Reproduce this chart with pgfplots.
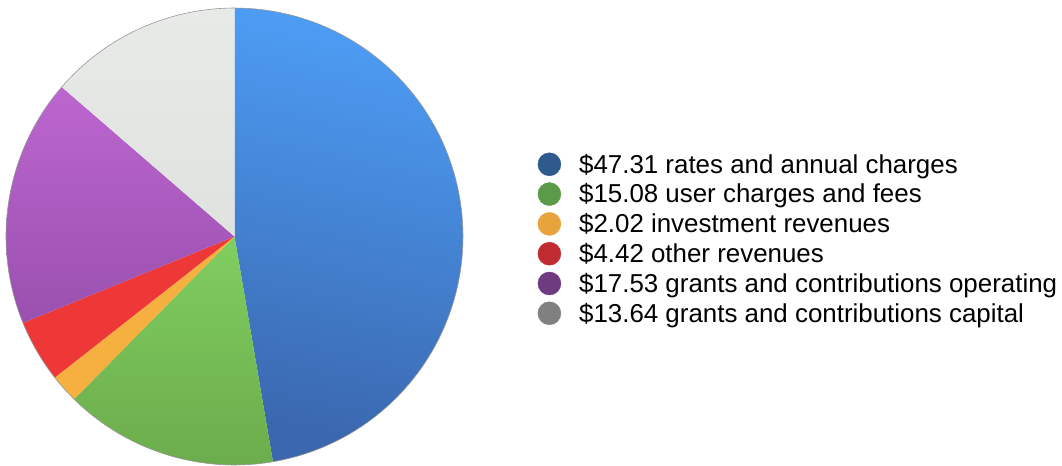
\documentclass[border=0pt]{standalone}
\usepackage{pgfplots}
\pgfplotsset{compat=1.18}
\usepackage{fontspec}
\setmainfont{Liberation Sans}
\definecolor{bluetop}{HTML}{4D9DF5}
\definecolor{bluebot}{HTML}{3A67AE}
\definecolor{greentop}{HTML}{80CE60}
\definecolor{greenbot}{HTML}{6CAC4C}
\definecolor{orangeS}{HTML}{F5B040}
\definecolor{redS}{HTML}{EE3838}
\definecolor{purptop}{HTML}{BC66D0}
\definecolor{purpbot}{HTML}{9A50AE}
\definecolor{greytop}{HTML}{E8EAE8}
\definecolor{greybot}{HTML}{E0E2E0}
\definecolor{lblue}{HTML}{2E5A8E}
\definecolor{lgreen}{HTML}{5A9A48}
\definecolor{lorange}{HTML}{E8A33C}
\definecolor{lred}{HTML}{C02C30}
\definecolor{lpurple}{HTML}{6E3A80}
\definecolor{lgrey}{HTML}{808080}
% values
\def\vA{47.31}\def\vB{15.08}\def\vC{2.02}\def\vD{4.42}\def\vE{17.53}\def\vF{13.64}
\pgfmathsetmacro{\tot}{\vA+\vB+\vC+\vD+\vE+\vF}
\pgfmathsetmacro{\aA}{90}
\pgfmathsetmacro{\aB}{\aA-3.6*(\vA/\tot)*100}
\pgfmathsetmacro{\aC}{\aB-3.6*(\vB/\tot)*100}
\pgfmathsetmacro{\aD}{\aC-3.6*(\vC/\tot)*100}
\pgfmathsetmacro{\aE}{\aD-3.6*(\vD/\tot)*100}
\pgfmathsetmacro{\aF}{\aE-3.6*(\vE/\tot)*100}
\pgfmathsetmacro{\aG}{\aF-3.6*(\vF/\tot)*100}
\def\cx{234.5}\def\cy{228.5}\def\rr{228.5}
\begin{document}
\begin{tikzpicture}
\begin{axis}[
  width=1062bp, height=465bp, scale only axis,
  xmin=0, xmax=1062, ymin=0, ymax=465,
  hide axis, clip=false,
  legend style={at={(axis cs:537.5,223)}, anchor=west, draw=none, fill=none,
    font=\fontsize{25.9bp}{29.6bp}\selectfont, row sep=0pt, column sep=18bp, inner sep=0pt,
    nodes={inner sep=0pt, text height=19bp, text depth=9.2bp}},
  legend cell align=left,
  legend image code/.code={\fill[#1] (0bp,4bp) circle (11.5bp);},
]
\addplot[forget plot, draw=none] coordinates {(0,0) (1062,465)};
\addplot[forget plot, draw=none, shade, top color=bluetop, bottom color=bluebot, shading angle=-12, domain=\aB:\aA, samples=120]
  ({\cx+\rr*cos(x)},{\cy+\rr*sin(x)}) -- (axis cs:\cx,\cy) -- cycle;
\addplot[forget plot, draw=none, shade, top color=greentop, bottom color=greenbot, domain=\aC:\aB, samples=60]
  ({\cx+\rr*cos(x)},{\cy+\rr*sin(x)}) -- (axis cs:\cx,\cy) -- cycle;
\addplot[forget plot, draw=none, fill=orangeS, domain=\aD:\aC, samples=20]
  ({\cx+\rr*cos(x)},{\cy+\rr*sin(x)}) -- (axis cs:\cx,\cy) -- cycle;
\addplot[forget plot, draw=none, fill=redS, domain=\aE:\aD, samples=30]
  ({\cx+\rr*cos(x)},{\cy+\rr*sin(x)}) -- (axis cs:\cx,\cy) -- cycle;
\addplot[forget plot, draw=none, shade, top color=purptop, bottom color=purpbot, domain=\aF:\aE, samples=60]
  ({\cx+\rr*cos(x)},{\cy+\rr*sin(x)}) -- (axis cs:\cx,\cy) -- cycle;
\addplot[forget plot, draw=none, shade, top color=greytop, bottom color=greybot, domain=\aG:\aF, samples=60]
  ({\cx+\rr*cos(x)},{\cy+\rr*sin(x)}) -- (axis cs:\cx,\cy) -- cycle;
\addplot[forget plot, draw=black!40, line width=0.6bp, domain=0:360, samples=180]
  ({\cx+\rr*cos(x)},{\cy+\rr*sin(x)});
\addlegendimage{lblue}\addlegendentry{\$47.31 rates and annual charges}
\addlegendimage{lgreen}\addlegendentry{\$15.08 user charges and fees}
\addlegendimage{lorange}\addlegendentry{\$2.02 investment revenues}
\addlegendimage{lred}\addlegendentry{\$4.42 other revenues}
\addlegendimage{lpurple}\addlegendentry{\$17.53 grants and contributions operating}
\addlegendimage{lgrey}\addlegendentry{\$13.64 grants and contributions capital}
\end{axis}
\end{tikzpicture}
\end{document}
